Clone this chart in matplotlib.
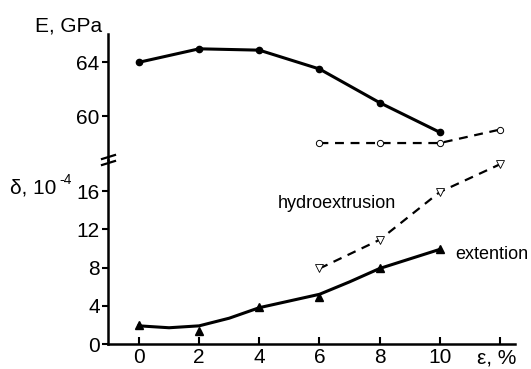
import matplotlib
matplotlib.use("Agg")
import matplotlib.pyplot as plt
from matplotlib.lines import Line2D

plt.rcParams["font.family"] = ["Liberation Sans", "DejaVu Sans"]

# strain, %
e_x = [0, 2, 4, 6, 8, 10]
e_extention = [64.0, 65.0, 64.9, 63.5, 61.0, 58.8]
e_hydro_x = [6, 8, 10, 12]
e_hydro = [58.0, 58.0, 58.0, 59.0]

d_ext_x = [0, 2, 4, 6, 8, 10]
d_extention = [2.0, 1.4, 3.9, 4.9, 7.9, 9.9]
# smoothed curve drawn through the extention points
d_ext_curve_x = [0, 1, 2, 3, 4, 5, 6, 7, 8, 9, 10]
d_ext_curve = [1.9, 1.7, 1.9, 2.7, 3.8, 4.5, 5.2, 6.5, 7.9, 8.9, 9.9]
d_hydro_x = [6, 8, 10, 12]
d_hydro = [7.9, 10.9, 15.9, 18.8]

x_ticks = [0, 2, 4, 6, 8, 10, 12]
x_labels = ["0", "2", "4", "6", "8", "10", ""]

W, H = 531, 369
fig = plt.figure(figsize=(W / 100, H / 100), dpi=100)

left = 108 / W
width = (515 - 108) / W
y_break = 1 - 160 / H
ax_top = fig.add_axes([left, y_break, width, (160 - 34) / H])
ax_bot = fig.add_axes([left, 1 - 344 / H, width, (344 - 160) / H])

xlim = (-1.03, 12.5)
fs = 15

# upper panel: E
ax_top.plot(e_x, e_extention, "-", color="black", lw=2.2, marker="o", ms=4.5)
ax_top.plot(e_hydro_x, e_hydro, "--", color="black", lw=1.6, dashes=(4, 3),
            marker="o", ms=4.5, mfc="white", mec="black", mew=0.7)
ax_top.set_xlim(*xlim)
ax_top.set_ylim(56.74, 66.1)
ax_top.set_yticks([60, 64])
for s in ["top", "right", "bottom"]:
    ax_top.spines[s].set_visible(False)
ax_top.spines["left"].set_linewidth(1.8)
ax_top.set_xticks([])
ax_top.tick_params(axis="y", direction="out", length=4, width=1.5, labelsize=fs, pad=2)
ax_top.patch.set_alpha(0)

# lower panel: delta
ax_bot.plot(d_ext_curve_x, d_ext_curve, "-", color="black", lw=2.2)
ax_bot.plot(d_ext_x, d_extention, "^", color="black", ms=5.5, lw=0)
ax_bot.plot(d_hydro_x, d_hydro, "--", color="black", lw=1.6, dashes=(4, 3),
            marker="v", ms=5.5, mfc="white", mec="black", mew=0.6, clip_on=False)
ax_bot.set_xlim(*xlim)
ax_bot.set_ylim(0, 19.25)
ax_bot.set_yticks([0, 4, 8, 12, 16])
ax_bot.set_xticks(x_ticks)
ax_bot.set_xticklabels(x_labels)
for s in ["top", "right"]:
    ax_bot.spines[s].set_visible(False)
ax_bot.spines["left"].set_linewidth(1.8)
ax_bot.spines["bottom"].set_linewidth(1.8)
ax_bot.tick_params(axis="y", direction="out", length=4, width=1.5, labelsize=fs, pad=2)
ax_bot.tick_params(axis="x", direction="in", length=5, width=1.5, labelsize=fs, pad=3)
ax_bot.patch.set_alpha(0)

# axis break marks
for yy in (157, 163):
    fig.add_artist(Line2D([102 / W, 115 / W], [1 - (yy + 2) / H, 1 - (yy - 2) / H],
                          color="black", lw=1.6))

# labels
fig.text(35 / W, 1 - 26 / H, "E, GPa", fontsize=fs, va="center", ha="left")
fig.text(10 / W, 1 - 188 / H, "δ, 10", fontsize=fs, va="center", ha="left")
fig.text(59 / W, 1 - 180 / H, "-4", fontsize=10, va="center", ha="left")
fig.text(516 / W, 1 - 358 / H, "ε, %", fontsize=fs, va="center", ha="right")
ax_bot.text(4.62, 14.7, "hydroextrusion", fontsize=13, ha="left", va="center")
ax_bot.text(10.5, 9.4, "extention", fontsize=13, ha="left", va="center")

fig.savefig("out.png", dpi=100)
